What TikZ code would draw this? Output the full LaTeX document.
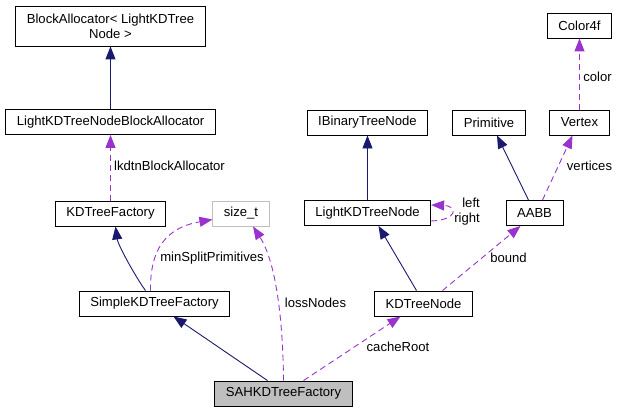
\documentclass[tikz,border=0pt]{standalone}
\usepackage{fontspec}
\setmainfont{Liberation Sans}
\usetikzlibrary{arrows.meta}
\definecolor{inhclr}{HTML}{191970}
\definecolor{usgclr}{HTML}{9A32CD}
\definecolor{grayclr}{HTML}{BFBFBF}
\tikzset{
  cls/.style={draw=black,line width=0.9pt,fill=white,inner xsep=11pt,inner ysep=0pt,
    minimum height=25pt,font=\fontsize{13.1}{15}\selectfont,align=center},
  clsext/.style={cls,draw=grayclr},          % external type
  clscur/.style={cls,fill=grayclr},          % the documented class
  inh/.style={-{Triangle[length=13pt,width=10pt]},line width=0.9pt,draw=inhclr},
  usg/.style={-{Triangle[length=13pt,width=10pt]},line width=0.9pt,draw=usgclr,
    dash pattern=on 6pt off 4pt},
  elbl/.style={font=\fontsize{13.1}{15}\selectfont,inner sep=0pt,align=center},
}

\begin{document}
\begin{tikzpicture}[x=1pt,y=-1pt]
  \useasboundingbox (0,0) rectangle (619,412);
  % classes
  \node[cls,minimum height=40pt] (ba) at (110.5,26) {BlockAllocator< LightKDTree\\Node >};
  \node[cls] (lba) at (110.5,122) {LightKDTreeNodeBlockAllocator};
  \node[cls] (kdf) at (110.5,213.5) {KDTreeFactory};
  \node[clsext] (sizet) at (241,213.5) {size\_t};
  \node[cls] (skf) at (154.5,303.5) {SimpleKDTreeFactory};
  \node[clscur] (sah) at (283.5,393.5) {SAHKDTreeFactory};
  \node[cls] (ibtn) at (367.5,122.5) {IBinaryTreeNode};
  \node[cls] (prim) at (489,122.5) {Primitive};
  \node[cls] (vtx) at (579.5,122.5) {Vertex};
  \node[cls] (col) at (579.5,25.5) {Color4f};
  \node[cls] (lkn) at (367.5,213) {LightKDTreeNode};
  \node[cls] (aabb) at (534.5,213) {AABB};
  \node[cls] (kdn) at (423.5,303.5) {KDTreeNode};
  % inheritance
  \draw[inh] (lba) -- (ba);
  \draw[inh] ([xshift=-9pt]skf.north) .. controls (135,276) and (118,245) .. ([xshift=5pt]kdf.south);
  \draw[inh] ([xshift=-16pt]sah.north) -- ([xshift=19pt]skf.south);
  \draw[inh] ([xshift=-7pt]kdn.north) -- ([xshift=11pt]lkn.south);
  \draw[inh] (lkn) -- (ibtn);
  \draw[inh] ([xshift=-6pt]aabb.north) -- ([xshift=8pt]prim.south);
  % usage
  \draw[usg] (kdf) -- (lba);
  \draw[usg] ([xshift=-4pt]skf.north) .. controls (150,250) and (165,228) .. ([yshift=-6pt]sizet.west);
  \draw[usg] (sah.north) .. controls (283,320) and (276,262) .. ([xshift=12pt]sizet.south);
  \draw[usg] ([xshift=20pt]sah.north) -- ([xshift=-23pt]kdn.south);
  \draw[usg] ([xshift=19pt]kdn.north) -- ([xshift=-14pt]aabb.south);
  \draw[usg] ([yshift=-8pt]lkn.east) .. controls (458,220) and (458,206) .. ([yshift=8pt]lkn.east);
  \draw[usg] ([xshift=8pt]aabb.north) -- ([xshift=-7pt]vtx.south);
  \draw[usg] (vtx) -- (col);
  % labels
  \node[elbl,anchor=west] (lkdtn) at (114,166) {lkdtnBlockAllocator};
  \node[elbl] (msp) at (212,258) {minSplitPrimitives};
  \node[elbl] (lossn) at (315.5,303) {lossNodes};
  \node[elbl] (croot) at (398,347) {cacheRoot};
  \node[elbl] (bnd) at (508.5,258) {bound};
  \node[elbl,align=right,anchor=east] (lr) at (480,211.5) {left\\right};
  \node[elbl] (vtcs) at (589.5,166) {vertices};
  \node[elbl] (clr) at (597.5,77) {color};
\end{tikzpicture}
\end{document}
